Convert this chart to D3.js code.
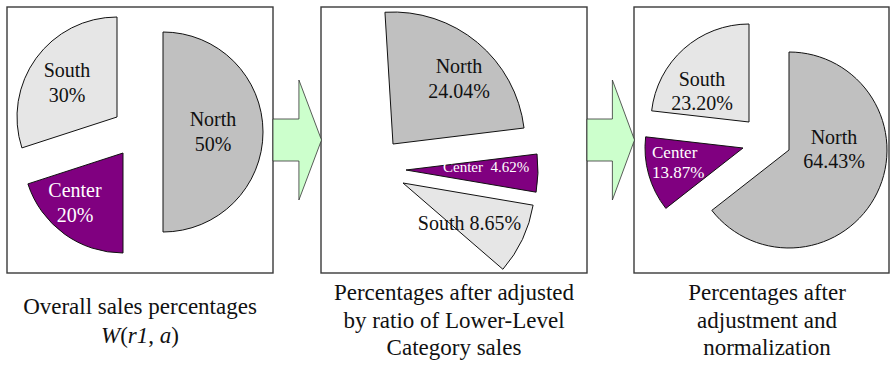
<!DOCTYPE html>
<html>
<head>
<meta charset="utf-8">
<script src="https://cdn.jsdelivr.net/npm/d3@7"></script>
<style>
  html, body { margin: 0; padding: 0; background: #fff; }
  svg { display: block; }
  text { font-family: "Liberation Serif", "Times New Roman", serif; }
</style>
</head>
<body>
<svg id="chart" width="892" height="365"></svg>
<script>
// ---------------- data ----------------
const categories = ["North", "Center", "South"];
const overallValues = [50, 20, 30];             // panel 1 (%)
const adjustedValues = [24.04, 4.62, 8.65];     // panel 2 (%)
const normalizedValues = [64.43, 13.87, 23.20]; // panel 3 (%), as labelled
const captionLines = [
  ["Overall sales percentages"],
  ["Percentages after adjusted", "by ratio of Lower-Level", "Category sales"],
  ["Percentages after", "adjustment and", "normalization"]
];
const formulaParts = [["W", true], ["(", false], ["r1", true], [", ", false], ["a", true], [")", false]];

// ---------------- styles / layout ----------------
const colors = { North: "#c0c0c0", Center: "#800080", South: "#e6e6e6" };
const textColors = { North: "#111", Center: "#fff", South: "#111" };
const deg = Math.PI / 180;

const svg = d3.select("#chart");

const panels = [
  {
    box: [7, 7, 266, 266], r: 100,
    pie: d3.pie().sort(null).value(d => d),
    values: overallValues, labelValues: overallValues, fmt: d3.format("d"),
    apex: { North: [163, 132], Center: [123, 153], South: [117, 117] },
    labels: {
      North: { x: 213, y: [126, 151], size: 20, anchor: "middle", split: true },
      Center: { x: 75, y: [197, 222], size: 20, anchor: "middle", split: true },
      South: { x: 67, y: [77, 102], size: 20, anchor: "middle", split: true }
    },
    caption: { x: 140, y: 314, lh: 28.5 }
  },
  {
    box: [321, 7, 266, 266], r: 132,
    pie: d3.pie().sort(null).value(d => d)
      .startAngle(-3.5 * deg)
      .endAngle(-3.5 * deg + 2 * Math.PI * d3.sum(adjustedValues) / 100),
    values: adjustedValues, labelValues: adjustedValues, fmt: d3.format(".2f"),
    apex: { North: [393, 144], Center: [406, 170], South: [403, 183] },
    labels: {
      North: { x: 459, y: [73, 98], size: 20, anchor: "middle", split: true },
      Center: { x: 443, y: [172], size: 15, anchor: "start", split: false, sep: "\u00a0\u00a0" },
      South: { x: 469.5, y: [230], size: 20, anchor: "middle", split: false, sep: " " }
    },
    caption: { x: 454, y: 300, lh: 27.5 }
  },
  {
    box: [634, 7, 255, 266], r: 98,
    // normalization of the adjusted shares: d3.pie divides by their sum
    pie: d3.pie().sort(null).value(d => d),
    values: adjustedValues, labelValues: normalizedValues, fmt: d3.format(".2f"),
    apex: { North: [789, 150], Center: [743, 148], South: [749, 122] },
    labels: {
      North: { x: 834, y: [144, 168], size: 20, anchor: "middle", split: true },
      Center: { x: 652, y: [158, 178], size: 17, anchor: "start", split: true },
      South: { x: 702, y: [86, 110], size: 20, anchor: "middle", split: true }
    },
    caption: { x: 767, y: 300, lh: 27.5 }
  }
];

// panel frames
panels.forEach(p => {
  svg.append("rect")
    .attr("x", p.box[0]).attr("y", p.box[1])
    .attr("width", p.box[2]).attr("height", p.box[3])
    .attr("fill", "#fff").attr("stroke", "#3a3a3a").attr("stroke-width", 1.4);
});

// arrows between panels
[0, 1].forEach(i => {
  const x0 = panels[i].box[0] + panels[i].box[2];
  const x1 = panels[i + 1].box[0];
  const cy = 140, shaftH = 21, headH = 60, headX = x0 + (x1 - x0) * 0.54;
  const pts = [
    [x0, cy - shaftH], [headX, cy - shaftH], [headX, cy - headH], [x1 + 0.5, cy],
    [headX, cy + headH], [headX, cy + shaftH], [x0, cy + shaftH]
  ];
  svg.append("path")
    .attr("d", d3.line()(pts) + "Z")
    .attr("fill", "#ccffcc").attr("stroke", "#333").attr("stroke-width", 0.8);
});

// slices and labels
panels.forEach(p => {
  const arc = d3.arc().innerRadius(0).outerRadius(p.r);
  const arcs = p.pie(p.values);
  const g = svg.append("g");
  arcs.forEach((a, i) => {
    const cat = categories[i];
    const [ax, ay] = p.apex[cat];
    g.append("path")
      .attr("transform", `translate(${ax},${ay})`)
      .attr("d", arc(a))
      .attr("fill", colors[cat])
      .attr("stroke", "#111").attr("stroke-width", 1);
  });
  arcs.forEach((a, i) => {
    const cat = categories[i];
    const L = p.labels[cat];
    const pct = p.fmt(p.labelValues[i]) + "%";
    const lines = L.split ? [cat, pct] : [cat + L.sep + pct];
    lines.forEach((t, j) => {
      g.append("text")
        .attr("x", L.x).attr("y", L.y[j])
        .attr("text-anchor", L.anchor)
        .attr("font-size", L.size)
        .attr("fill", textColors[cat])
        .text(t);
    });
  });
});

// captions
panels.forEach((p, i) => {
  const c = p.caption;
  captionLines[i].forEach((t, j) => {
    svg.append("text")
      .attr("x", c.x).attr("y", c.y + j * c.lh)
      .attr("text-anchor", "middle").attr("font-size", 23)
      .attr("fill", "#111").text(t);
  });
  if (i === 0) {
    const t = svg.append("text")
      .attr("x", c.x).attr("y", c.y + c.lh)
      .attr("text-anchor", "middle").attr("font-size", 23).attr("fill", "#111");
    formulaParts.forEach(([s, it]) => {
      t.append("tspan").attr("font-style", it ? "italic" : "normal").text(s);
    });
  }
});
</script>
</body>
</html>
